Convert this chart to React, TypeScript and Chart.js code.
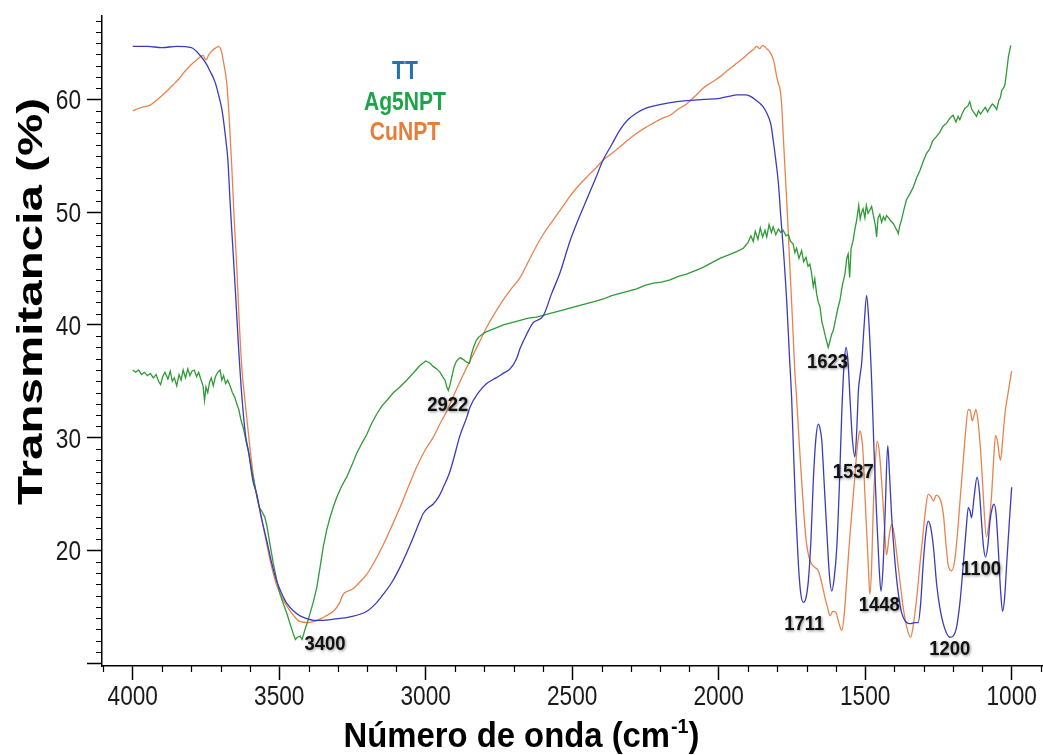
import React, { useEffect, useRef } from "react";
import { Chart, registerables } from "chart.js";

Chart.register(...registerables);

// ---- DATA (wavenumber cm-1, transmittance %) ----
const ttSpectrum: [number, number][] = [
  [4000, 64.7], [3950, 64.7], [3900, 64.6], [3850, 64.7], [3800, 64.6], [3770, 63.9], [3750, 63.2],
  [3736, 62.5], [3720, 61.6], [3708, 60.5], [3695, 59.0], [3685, 57.0], [3675, 54.5], [3668, 51.0],
  [3660, 47.5], [3651, 43.6], [3640, 38.5], [3628, 33.8], [3615, 30.2], [3605, 28.8], [3590, 26.2],
  [3577, 25.0], [3560, 22.8], [3543, 20.9], [3525, 18.8], [3509, 17.3], [3490, 16.1], [3474, 15.3],
  [3450, 14.6], [3429, 14.2], [3400, 13.9], [3384, 13.8], [3350, 13.8], [3315, 13.9], [3258, 14.1],
  [3201, 14.6], [3170, 15.3], [3145, 16.1], [3115, 17.2], [3088, 18.5], [3065, 19.8], [3042, 21.2],
  [3020, 22.6], [3008, 23.3], [2990, 23.8], [2975, 24.1], [2955, 24.8], [2940, 25.6], [2920, 26.8],
  [2906, 28.0], [2883, 30.2], [2860, 31.8], [2849, 32.7], [2820, 34.0], [2792, 34.8], [2760, 35.3],
  [2736, 35.7], [2712, 36.1], [2690, 37.0], [2678, 37.9], [2655, 39.2], [2633, 40.2], [2599, 40.8],
  [2570, 42.8], [2542, 44.6], [2508, 47.4], [2480, 49.3], [2451, 51.1], [2420, 53.0], [2395, 54.6],
  [2365, 56.0], [2337, 57.3], [2310, 58.2], [2280, 58.8], [2250, 59.2], [2224, 59.4], [2170, 59.7],
  [2110, 59.9], [2050, 60.0], [1996, 60.1], [1960, 60.3], [1939, 60.4], [1910, 60.4], [1893, 60.3],
  [1871, 59.9], [1850, 59.4], [1836, 58.8], [1822, 57.8], [1814, 56.4], [1805, 54.6], [1796, 52.5],
  [1788, 49.6], [1779, 46.6], [1768, 42.2], [1758, 37.0], [1751, 33.5], [1745, 29.1], [1737, 23.5],
  [1728, 18.8], [1720, 16.2], [1711, 15.4], [1702, 15.8], [1694, 17.3], [1685, 21.0], [1677, 26.2],
  [1668, 30.0], [1660, 31.2], [1654, 30.8], [1648, 29.7], [1640, 26.0], [1631, 21.7], [1622, 17.8],
  [1614, 16.4], [1606, 17.5], [1597, 20.2], [1588, 25.8], [1580, 32.1], [1572, 36.5], [1565, 38.0],
  [1558, 36.5], [1552, 33.6], [1544, 30.0], [1535, 28.3], [1529, 30.5], [1523, 34.2], [1517, 35.6],
  [1512, 36.6], [1504, 39.8], [1495, 42.6], [1488, 40.5], [1478, 35.1], [1470, 29.0], [1461, 23.2],
  [1453, 18.8], [1446, 16.4], [1439, 18.5], [1432, 23.2], [1423, 29.3], [1417, 26.8], [1410, 23.2],
  [1400, 19.5], [1392, 17.3], [1380, 15.0], [1370, 14.05], [1347, 13.5], [1330, 13.6], [1319, 13.6],
  [1310, 15.5], [1302, 18.8], [1293, 21.5], [1285, 22.6], [1276, 22.0], [1267, 20.3], [1256, 17.0],
  [1245, 14.9], [1230, 13.2], [1211, 12.3], [1200, 12.4], [1188, 13.2], [1176, 15.5], [1165, 18.8],
  [1155, 22.0], [1148, 23.8], [1142, 23.5], [1137, 22.9], [1128, 24.8], [1118, 26.5], [1110, 25.2],
  [1103, 22.6], [1096, 20.3], [1089, 19.4], [1081, 20.5], [1074, 22.6], [1066, 23.8], [1060, 24.1],
  [1053, 23.2], [1046, 20.3], [1038, 16.5], [1031, 14.6], [1024, 15.8], [1017, 18.8], [1008, 22.5],
  [1000, 25.6],
];

const agSpectrum: [number, number][] = [
  [4000, 36.0], [3990, 35.8], [3980, 36.0], [3970, 35.6], [3960, 35.8], [3950, 35.5], [3940, 35.7],
  [3930, 35.3], [3920, 35.6], [3912, 35.0], [3905, 34.7], [3898, 35.4], [3890, 35.8], [3880, 35.2],
  [3872, 35.9], [3865, 35.0], [3858, 35.3], [3850, 34.6], [3842, 35.6], [3835, 35.1], [3828, 36.0],
  [3820, 35.3], [3812, 36.1], [3805, 35.5], [3798, 35.9], [3790, 36.0], [3782, 35.4], [3775, 35.8],
  [3768, 35.2], [3760, 34.6], [3755, 33.3], [3750, 34.5], [3744, 34.0], [3738, 34.9], [3732, 35.3],
  [3725, 34.6], [3718, 35.4], [3710, 35.8], [3702, 36.0], [3696, 35.1], [3690, 35.5], [3683, 34.8],
  [3676, 35.1], [3668, 34.6], [3660, 34.0], [3652, 33.6], [3645, 33.0], [3638, 32.5], [3630, 31.5],
  [3622, 30.8], [3611, 29.4], [3603, 28.5], [3594, 27.1], [3585, 26.0], [3577, 24.9], [3568, 23.8],
  [3560, 23.5], [3550, 23.0], [3543, 22.3], [3532, 20.6], [3520, 18.8], [3508, 17.3], [3497, 16.1],
  [3485, 15.2], [3474, 14.4], [3462, 13.4], [3452, 12.6], [3445, 12.1], [3438, 12.3], [3429, 12.4],
  [3422, 12.1], [3412, 13.0], [3403, 13.7], [3395, 14.4], [3383, 15.5], [3372, 16.7], [3360, 18.6],
  [3350, 20.3], [3338, 21.8], [3327, 22.9], [3315, 23.9], [3304, 24.7], [3287, 25.7], [3270, 26.5],
  [3253, 27.5], [3236, 28.6], [3218, 29.5], [3201, 30.3], [3184, 31.3], [3167, 32.1], [3150, 32.8],
  [3133, 33.3], [3110, 34.0], [3088, 34.5], [3065, 35.1], [3040, 35.8], [3020, 36.4], [3000, 36.8],
  [2985, 36.6], [2974, 36.3], [2962, 36.1], [2951, 35.8], [2942, 35.4], [2934, 35.1], [2928, 34.5],
  [2923, 34.2], [2917, 34.7], [2911, 35.4], [2903, 36.3], [2895, 36.8], [2883, 37.1], [2870, 36.9],
  [2860, 36.7], [2851, 36.6], [2844, 37.4], [2837, 38.0], [2828, 38.6], [2820, 38.9], [2806, 39.2],
  [2792, 39.4], [2764, 39.7], [2735, 40.0], [2706, 40.2], [2678, 40.4], [2650, 40.6], [2622, 40.7],
  [2594, 40.9], [2565, 41.1], [2536, 41.3], [2508, 41.5], [2480, 41.7], [2451, 41.9], [2422, 42.1],
  [2394, 42.3], [2365, 42.6], [2337, 42.8], [2308, 43.0], [2280, 43.2], [2252, 43.5], [2223, 43.7],
  [2195, 43.8], [2166, 44.0], [2138, 44.3], [2110, 44.5], [2082, 44.8], [2053, 45.1], [2025, 45.5],
  [1996, 45.9], [1968, 46.2], [1939, 46.5], [1916, 46.8], [1900, 47.3], [1890, 47.9], [1882, 47.4],
  [1875, 48.3], [1866, 47.6], [1858, 48.6], [1850, 47.8], [1842, 48.4], [1836, 47.8], [1828, 48.9],
  [1820, 48.2], [1814, 48.7], [1805, 48.0], [1796, 48.5], [1788, 48.2], [1780, 48.4], [1770, 47.9],
  [1762, 48.0], [1755, 47.4], [1746, 47.2], [1740, 46.4], [1734, 46.8], [1726, 45.9], [1717, 46.6],
  [1710, 45.6], [1702, 46.0], [1695, 45.2], [1689, 45.4], [1683, 44.6], [1677, 43.4], [1672, 44.1],
  [1666, 42.8], [1660, 42.0], [1654, 41.6], [1648, 40.3], [1643, 39.8], [1636, 39.0], [1630, 38.4],
  [1626, 38.0], [1620, 38.6], [1614, 39.2], [1609, 39.5], [1600, 40.6], [1593, 41.5], [1586, 42.2],
  [1578, 43.5], [1569, 44.5], [1563, 45.9], [1558, 46.3], [1553, 44.2], [1548, 46.8], [1541, 47.5],
  [1535, 48.5], [1529, 49.3], [1522, 50.6], [1517, 49.4], [1512, 50.0], [1507, 50.3], [1501, 49.5],
  [1496, 50.6], [1490, 49.9], [1484, 50.2], [1478, 50.5], [1471, 49.6], [1465, 48.8], [1461, 47.8],
  [1456, 49.5], [1450, 49.8], [1444, 49.1], [1438, 49.6], [1432, 49.3], [1427, 49.7], [1420, 49.5],
  [1412, 49.2], [1404, 49.0], [1396, 48.6], [1390, 48.3], [1387, 48.1], [1382, 48.8], [1376, 49.3],
  [1368, 50.2], [1359, 51.1], [1348, 51.6], [1336, 52.2], [1325, 53.0], [1313, 53.7], [1302, 54.5],
  [1291, 55.2], [1280, 55.6], [1270, 56.3], [1257, 56.7], [1245, 57.1], [1235, 57.6], [1222, 57.9],
  [1212, 58.3], [1200, 58.6], [1190, 58.0], [1183, 58.5], [1177, 58.2], [1168, 58.8], [1160, 59.2],
  [1150, 59.4], [1143, 59.8], [1136, 59.1], [1128, 58.8], [1120, 58.5], [1113, 59.0], [1106, 58.7],
  [1098, 59.0], [1090, 59.3], [1082, 58.9], [1074, 59.3], [1066, 59.6], [1058, 59.4], [1051, 59.1],
  [1044, 59.9], [1038, 60.2], [1034, 60.8], [1028, 61.0], [1023, 61.3], [1017, 62.5], [1011, 63.8],
  [1003, 64.8],
];

const cuSpectrum: [number, number][] = [
  [4000, 59.0], [3970, 59.3], [3941, 59.5], [3920, 59.9], [3907, 60.2], [3885, 60.7], [3862, 61.3],
  [3840, 61.9], [3822, 62.5], [3800, 63.1], [3782, 63.5], [3760, 63.9], [3750, 63.5], [3740, 64.0],
  [3726, 64.4], [3715, 64.6], [3708, 64.7], [3700, 64.5], [3696, 64.1], [3688, 63.0], [3679, 61.4],
  [3670, 58.0], [3662, 54.0], [3654, 49.5], [3645, 45.1], [3636, 40.0], [3628, 36.3], [3617, 33.3],
  [3600, 29.1], [3585, 26.0], [3570, 24.0], [3550, 21.5], [3530, 19.0], [3510, 17.0], [3490, 15.8],
  [3470, 14.9], [3450, 14.2], [3430, 13.7], [3400, 13.6], [3380, 13.7], [3361, 13.9], [3340, 14.2],
  [3315, 14.6], [3295, 15.3], [3282, 16.1], [3265, 16.4], [3248, 16.6], [3225, 17.2], [3201, 17.9],
  [3175, 19.0], [3145, 20.5], [3115, 22.2], [3088, 23.8], [3060, 25.6], [3031, 27.4], [3000, 29.0],
  [2975, 30.0], [2950, 31.3], [2929, 32.3], [2900, 34.0], [2870, 35.7], [2849, 36.8], [2820, 38.3],
  [2792, 39.8], [2765, 41.0], [2736, 42.2], [2705, 43.3], [2678, 44.2], [2650, 45.6], [2622, 47.0],
  [2595, 48.2], [2565, 49.3], [2535, 50.4], [2508, 51.4], [2480, 52.3], [2451, 53.1], [2420, 53.9],
  [2395, 54.6], [2365, 55.2], [2337, 55.8], [2310, 56.4], [2280, 57.0], [2250, 57.5], [2223, 57.9],
  [2195, 58.3], [2166, 58.6], [2140, 59.1], [2110, 59.6], [2080, 60.3], [2053, 61.0], [2025, 61.5],
  [1996, 62.0], [1968, 62.6], [1939, 63.2], [1915, 63.7], [1893, 64.2], [1882, 64.4], [1871, 64.7],
  [1860, 64.5], [1850, 64.8], [1836, 64.5], [1828, 64.3], [1819, 63.9], [1810, 63.2], [1802, 62.0],
  [1795, 61.3], [1791, 61.0], [1785, 59.5], [1780, 57.0], [1774, 54.0], [1768, 51.1], [1762, 48.0],
  [1757, 45.1], [1751, 42.0], [1746, 39.2], [1740, 35.8], [1734, 33.5], [1725, 29.5], [1717, 26.2],
  [1708, 22.8], [1700, 20.6], [1692, 19.4], [1683, 18.8], [1672, 18.5], [1660, 18.2], [1650, 17.3],
  [1637, 15.8], [1628, 14.9], [1620, 14.2], [1610, 14.6], [1600, 14.5], [1590, 13.6], [1580, 12.9],
  [1572, 14.2], [1563, 17.3], [1555, 20.3], [1546, 23.2], [1537, 26.0], [1529, 28.6], [1523, 30.0],
  [1518, 30.6], [1512, 30.0], [1507, 28.6], [1501, 25.0], [1495, 21.8], [1489, 18.5], [1484, 16.1],
  [1478, 18.5], [1473, 23.2], [1466, 27.5], [1459, 29.7], [1452, 28.8], [1444, 26.2], [1435, 22.5],
  [1427, 19.6], [1418, 21.3], [1410, 22.3], [1401, 21.5], [1392, 19.6], [1380, 17.0], [1370, 14.9],
  [1358, 13.2], [1345, 12.3], [1335, 13.5], [1324, 15.8], [1313, 18.8], [1302, 21.6], [1293, 23.8],
  [1285, 25.0], [1276, 24.8], [1267, 24.4], [1257, 24.9], [1247, 24.7], [1240, 24.2], [1233, 23.2],
  [1224, 20.5], [1216, 18.6], [1205, 18.2], [1195, 19.0], [1185, 21.5], [1175, 24.8], [1165, 28.0],
  [1158, 30.3], [1148, 32.5], [1141, 32.4], [1135, 31.5], [1128, 32.0], [1122, 32.5], [1115, 31.5],
  [1108, 29.5], [1103, 27.7], [1095, 24.0], [1086, 21.2], [1078, 22.3], [1069, 24.7], [1062, 27.8],
  [1055, 30.2], [1048, 29.6], [1042, 28.4], [1038, 28.0], [1030, 30.0], [1023, 32.1], [1012, 34.0],
  [1000, 35.9],
];

const seriesNames = ["TT", "Ag5NPT", "CuNPT"];
const xMajorTicks = [4000, 3500, 3000, 2500, 2000, 1500, 1000];
const yMajorTicks = [10, 20, 30, 40, 50, 60];
const peakLabels = ["3400", "2922", "1623", "1537", "1711", "1448", "1200", "1100"];
const peakWaves = [3344, 2925, 1629, 1541, 1708, 1452, 1211, 1105];
const peakValues = [11.7, 32.9, 36.7, 26.9, 13.5, 15.1, 11.2, 18.3];

// ---- STYLE ----
const lineColors = ["#3b3bbd", "#2f9a36", "#e8834d"];
const legendColors = ["#2474b5", "#1fa34a", "#e67e3b"];
const SANS = "'Liberation Sans', Arial, sans-serif";

function drawScaled(
  ctx: CanvasRenderingContext2D,
  text: string,
  x: number,
  y: number,
  font: string,
  color: string,
  sx: number,
  align: CanvasTextAlign,
  baseline: CanvasTextBaseline
) {
  ctx.save();
  ctx.font = font;
  ctx.fillStyle = color;
  ctx.textAlign = align;
  ctx.textBaseline = baseline;
  ctx.translate(x, y);
  ctx.scale(sx, 1);
  ctx.fillText(text, 0, 0);
  ctx.restore();
}

const overlayPlugin = {
  id: "overlay",
  afterDraw(chart: any) {
    const ctx: CanvasRenderingContext2D = chart.ctx;
    const xs = chart.scales.x;
    const ys = chart.scales.y;
    const area = chart.chartArea;

    // minor ticks
    ctx.save();
    ctx.strokeStyle = "#000";
    ctx.lineWidth = 1.2;
    ctx.beginPath();
    for (let v = 10; v <= 67; v++) {
      if (v % 10 === 0) continue;
      const py = Math.round(ys.getPixelForValue(v)) + 0.5;
      ctx.moveTo(area.left - 6, py);
      ctx.lineTo(area.left, py);
    }
    for (let w = 900; w <= 4100; w += 100) {
      if (w % 500 === 0) continue;
      const px = Math.round(xs.getPixelForValue(w)) + 0.5;
      ctx.moveTo(px, area.bottom);
      ctx.lineTo(px, area.bottom + 6);
    }
    ctx.stroke();
    ctx.restore();

    // tick labels (narrow sans)
    const tickFont = `28px ${SANS}`;
    const tsx = 0.81;
    xMajorTicks.forEach((v) => {
      drawScaled(ctx, String(v), xs.getPixelForValue(v), area.bottom + 39, tickFont, "#1a1a1a", tsx, "center", "alphabetic");
    });
    yMajorTicks.forEach((v) => {
      if (v === 10) return;
      drawScaled(ctx, String(v), area.left - 21, ys.getPixelForValue(v) + 10, tickFont, "#1a1a1a", tsx, "right", "alphabetic");
    });

    // legend block (text only)
    const lx = area.left + 303;
    const ly = [72, 103, 133];
    const legendFont = `bold 25px ${SANS}`;
    ctx.save();
    ctx.font = legendFont;
    const lsx = 82 / ctx.measureText("Ag5NPT").width;
    ctx.restore();
    seriesNames.forEach((name, i) => {
      drawScaled(ctx, name, lx, ly[i], legendFont, legendColors[i], lsx, "center", "middle");
    });

    // peak annotations
    const peakFont = `bold 21px ${SANS}`;
    ctx.save();
    ctx.font = peakFont;
    const psx = 41 / ctx.measureText("1448").width;
    ctx.restore();
    peakLabels.forEach((lab, i) => {
      const px = xs.getPixelForValue(peakWaves[i]);
      const py = ys.getPixelForValue(peakValues[i]);
      ctx.save();
      ctx.shadowColor = "rgba(0,0,0,0.45)";
      ctx.shadowBlur = 3;
      ctx.shadowOffsetX = 1;
      ctx.shadowOffsetY = 1;
      drawScaled(ctx, lab, px, py, peakFont, "#111", psx, "center", "middle");
      ctx.restore();
    });

    // y title (rotated)
    ctx.save();
    ctx.font = `bold 35px ${SANS}`;
    const yt = "Transmitancia (%)";
    const ysx = 407 / ctx.measureText(yt).width;
    ctx.translate(41.5, 301.5);
    ctx.rotate(-Math.PI / 2);
    ctx.scale(ysx, 1);
    ctx.fillStyle = "#000";
    ctx.textAlign = "center";
    ctx.textBaseline = "alphabetic";
    ctx.fillText(yt, 0, 0);
    ctx.restore();

    // x title with superscript
    ctx.save();
    const mainFont = `bold 35px ${SANS}`;
    const supFont = `bold 21px ${SANS}`;
    const p1 = "Número de onda (cm";
    const sup = "-1";
    const p2 = ")";
    ctx.font = mainFont;
    const w1 = ctx.measureText(p1).width;
    const w2 = ctx.measureText(p2).width;
    ctx.font = supFont;
    const ws = ctx.measureText(sup).width;
    const total = w1 + ws + w2;
    const xsx = 355 / total;
    const cx = area.left + 419;
    const base = 746.5;
    ctx.translate(cx - (total * xsx) / 2, base);
    ctx.scale(xsx, 1);
    ctx.fillStyle = "#000";
    ctx.textAlign = "left";
    ctx.textBaseline = "alphabetic";
    ctx.font = mainFont;
    ctx.fillText(p1, 0, 0);
    ctx.font = supFont;
    ctx.fillText(sup, w1 + 1, -14);
    ctx.font = mainFont;
    ctx.fillText(p2, w1 + ws + 1, 0);
    ctx.restore();
  },
};

export default function App() {
  const canvasRef = useRef<HTMLCanvasElement | null>(null);

  useEffect(() => {
    document.body.style.margin = "0";
    const canvas = canvasRef.current;
    if (!canvas) return;

    const toPoints = (arr: [number, number][]) => arr.map(([x, y]) => ({ x, y }));
    const spectra = [ttSpectrum, agSpectrum, cuSpectrum];

    const chart = new Chart(canvas, {
      type: "line",
      data: {
        datasets: spectra.map((s, i) => ({
          label: seriesNames[i],
          data: toPoints(s),
          borderColor: lineColors[i],
          backgroundColor: lineColors[i],
          borderWidth: 1.3,
          pointRadius: 0,
          fill: false,
          tension: i === 1 ? 0 : 0.4,
          cubicInterpolationMode: i === 1 ? "default" : "monotone",
        })) as any,
      },
      options: {
        animation: false,
        responsive: false,
        maintainAspectRatio: false,
        layout: { padding: { top: 16, right: 0, left: 0, bottom: 0 } },
        plugins: { legend: { display: false }, tooltip: { enabled: false } },
        scales: {
          x: {
            type: "linear",
            reverse: true,
            min: 893,
            max: 4105,
            afterBuildTicks: (s: any) => {
              s.ticks = xMajorTicks.map((v) => ({ value: v }));
            },
            afterFit: (s: any) => {
              s.height = 89;
              s.paddingLeft = 0;
              s.paddingRight = 0;
            },
            grid: { drawOnChartArea: false, drawTicks: true, tickLength: 14, tickColor: "#000", tickWidth: 1.5 },
            border: { display: true, color: "#000", width: 1.5 },
            ticks: { display: false },
          },
          y: {
            type: "linear",
            min: 9.75,
            max: 67.4,
            afterBuildTicks: (s: any) => {
              s.ticks = yMajorTicks.map((v) => ({ value: v }));
            },
            afterFit: (s: any) => {
              s.width = 102;
              s.paddingTop = 0;
              s.paddingBottom = 0;
            },
            grid: { drawOnChartArea: false, drawTicks: true, tickLength: 15, tickColor: "#000", tickWidth: 1.5 },
            border: { display: true, color: "#000", width: 1.5 },
            ticks: { display: false },
          },
        },
      } as any,
      plugins: [overlayPlugin],
    });

    return () => chart.destroy();
  }, []);

  return (
    <div style={{ position: "relative", width: 1043, height: 755, background: "#fff" }}>
      <canvas ref={canvasRef} width={1043} height={755} />
    </div>
  );
}
